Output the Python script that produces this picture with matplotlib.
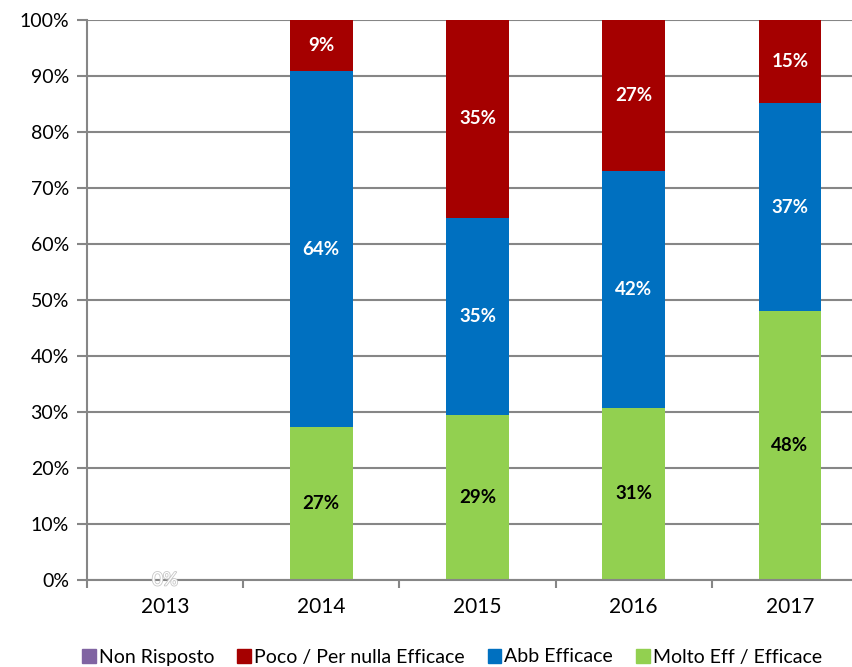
import matplotlib.pyplot as plt
import matplotlib.patheffects as pe
import numpy as np

plt.rcParams['font.family'] = ['Lato', 'DejaVu Sans']

years = ["2013", "2014", "2015", "2016", "2017"]
non_risposto = [0, 0, 0, 0, 0]
molto_eff = [0, 27.3, 29.4, 30.8, 48.1]
abb_eff = [0, 63.6, 35.3, 42.3, 37.0]
poco_eff = [0, 9.1, 35.3, 26.9, 14.9]

colors = {
    "Non Risposto": "#8064a2",
    "Poco / Per nulla Efficace": "#a50000",
    "Abb Efficace": "#0070c0",
    "Molto Eff / Efficace": "#92d050",
}

fig = plt.figure(figsize=(8.53, 6.67), dpi=100)
W, H = 853, 667
ax = fig.add_axes([87 / W, (H - 580) / H, 781 / W, 560 / H])

x = np.arange(len(years))
bw = 0.4
gray = "#868686"

ax.set_axisbelow(True)
ax.yaxis.grid(True, color=gray, linewidth=1.5)

bottom = np.zeros(len(years))
series = [
    ("Molto Eff / Efficace", molto_eff, "black"),
    ("Abb Efficace", abb_eff, "white"),
    ("Poco / Per nulla Efficace", poco_eff, "white"),
    ("Non Risposto", non_risposto, None),
]
for name, vals, tc in series:
    vals = np.array(vals, dtype=float)
    ax.bar(x, vals, bw, bottom=bottom, color=colors[name], zorder=2)
    if tc is not None:
        for xi, b, v in zip(x, bottom, vals):
            if v > 0:
                ax.text(xi, b + v / 2, f"{v:.0f}%", ha="center", va="center",
                        color=tc, fontsize=13.5, fontweight="bold", zorder=3)
    bottom += vals

# empty 2013 label
ax.text(0, 0, "0%", ha="center", va="center", color="white", fontsize=13.5,
        zorder=4, path_effects=[pe.withStroke(linewidth=1.2, foreground="#c8c8c8")])

ax.set_xlim(-0.5, len(years) - 0.5)
ax.set_ylim(0, 100)
ax.set_yticks(np.arange(0, 101, 10))
ax.set_yticklabels([f"{v}%" for v in range(0, 101, 10)], fontsize=14)
ax.set_xticks(x)
ax.set_xticklabels(years, fontsize=15)
ax.set_xticks(np.arange(-0.5, len(years), 1), minor=True)
ax.tick_params(axis="x", which="major", length=0, pad=12)
ax.tick_params(axis="x", which="minor", length=6, width=1.5, color=gray, direction="out")
ax.tick_params(axis="y", length=7, width=1.5, color=gray, direction="out", pad=6)

for s in ["top", "right"]:
    ax.spines[s].set_visible(False)
for s in ["left", "bottom"]:
    ax.spines[s].set_color(gray)
    ax.spines[s].set_linewidth(1.5)

handles = [plt.Rectangle((0, 0), 1, 1, color=colors[n]) for n in colors]
fig.legend(handles, list(colors.keys()), loc="center", bbox_to_anchor=(0.53, 1 - 657 / H),
           ncol=4, frameon=False, fontsize=14, handlelength=0.7, handleheight=0.7,
           handletextpad=0.15, columnspacing=1.2)

fig.savefig("out.png", dpi=100)
